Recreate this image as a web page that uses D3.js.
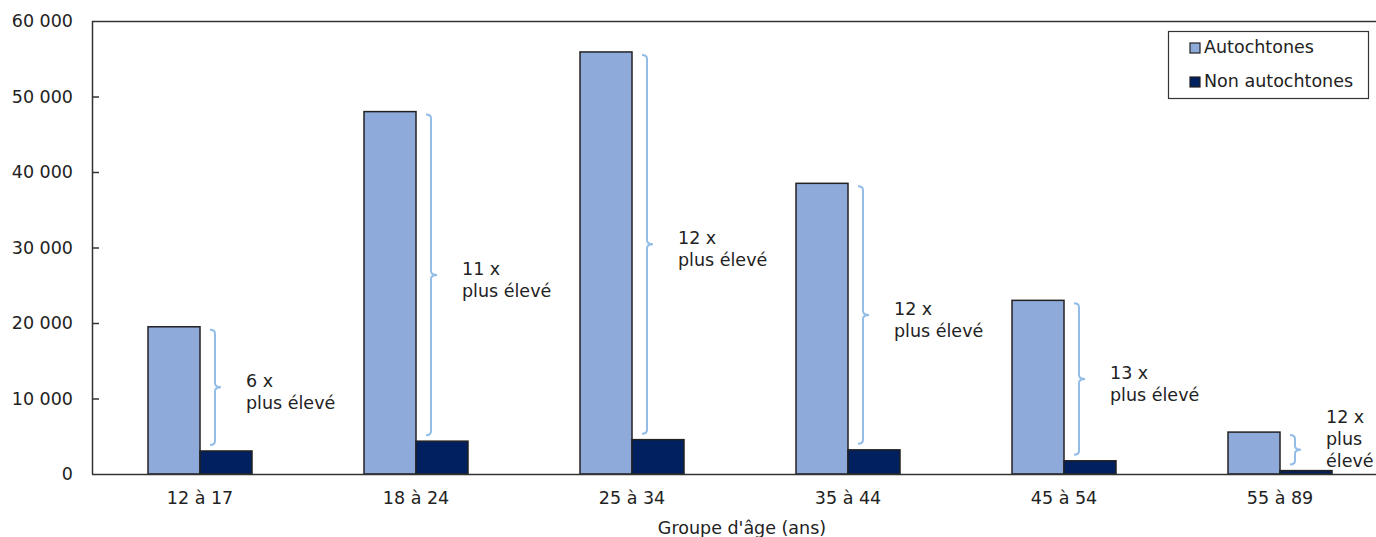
<!DOCTYPE html>
<html lang="fr">
<head>
<meta charset="utf-8">
<script src="https://cdn.jsdelivr.net/npm/d3@7"></script>
<style>
  html, body { margin: 0; padding: 0; background: #fff; }
  svg { display: block; font-family: "DejaVu Sans", Verdana, sans-serif; }
</style>
</head>
<body>
<svg id="chart" width="1376" height="537"></svg>
<script>
// Groupes d'âge et effectifs par groupe
const categories = ["12 à 17", "18 à 24", "25 à 34", "35 à 44", "45 à 54", "55 à 89"];
const seriesNames = ["Autochtones", "Non autochtones"];
const autochtones = [19500, 48000, 55900, 38500, 23000, 5550];
const nonAutochtones = [3050, 4350, 4550, 3200, 1750, 450];
// Rapport affiché à côté de chaque paire de barres (une entrée par ligne)
const ratioLabels = [
  ["6 x", "plus élevé"],
  ["11 x", "plus élevé"],
  ["12 x", "plus élevé"],
  ["12 x", "plus élevé"],
  ["13 x", "plus élevé"],
  ["12 x", "plus", "élevé"]
];
const yTicks = [0, 10000, 20000, 30000, 40000, 50000, 60000];
const xTitle = "Groupe d'âge (ans)";

const colors = { "Autochtones": "#8eaadb", "Non autochtones": "#002060" };
const braceColor = "#93bde8";
const textColor = "#222";

const svg = d3.select("#chart");
const plotLeft = 92, plotTop = 21, plotBottom = 474, step = 216, barW = 52;
const fontSize = "17.5px";

const x0 = d3.scaleBand().domain(categories).range([plotLeft, plotLeft + step * categories.length]).padding(0);
const x1 = d3.scaleBand().domain(seriesNames)
  .range([x0.bandwidth() / 2 - barW, x0.bandwidth() / 2 + barW]).padding(0);
const y = d3.scaleLinear().domain([0, 60000]).range([plotBottom, plotTop]);

const fmt = v => d3.format(",")(v).replace(/,/g, " ");

// Cadre supérieur du graphique
svg.append("line")
  .attr("x1", plotLeft).attr("x2", 1376).attr("y1", plotTop + 0.5).attr("y2", plotTop + 0.5)
  .attr("stroke", "#333").attr("stroke-width", 1.5);

// Axe des ordonnées
const yAxis = svg.append("g")
  .attr("transform", `translate(${plotLeft},0)`)
  .call(d3.axisRight(y).tickValues(yTicks).tickSize(7).tickFormat(fmt));
yAxis.select(".domain").attr("stroke", "#333").attr("stroke-width", 1.5)
  .attr("d", `M0.5,${plotBottom}V${plotTop}`);
yAxis.selectAll(".tick line").attr("stroke", "#333").attr("stroke-width", 1.5);
yAxis.selectAll(".tick text")
  .attr("x", -19).attr("text-anchor", "end")
  .attr("fill", textColor).style("font-size", fontSize).style("font-family", "DejaVu Sans, Verdana, sans-serif");
yAxis.selectAll(".tick").filter(d => d === 60000 || d === 0).select("line").remove();

// Barres
const groups = svg.append("g").selectAll("g")
  .data(categories)
  .join("g")
  .attr("transform", d => `translate(${x0(d)},0)`);

groups.selectAll("rect")
  .data((d, i) => [
    { key: "Autochtones", value: autochtones[i] },
    { key: "Non autochtones", value: nonAutochtones[i] }
  ])
  .join("rect")
  .attr("x", d => x1(d.key))
  .attr("width", x1.bandwidth())
  .attr("y", d => y(d.value))
  .attr("height", d => plotBottom - y(d.value))
  .attr("fill", d => colors[d.key])
  .attr("stroke", "#222")
  .attr("stroke-width", 1.5);

// Axe des abscisses
const xAxis = svg.append("g")
  .attr("transform", `translate(0,${plotBottom})`)
  .call(d3.axisBottom(x0).tickSize(0).tickPadding(18));
xAxis.select(".domain").attr("stroke", "#333").attr("stroke-width", 1.5)
  .attr("d", `M${plotLeft},0.5H1376`);
xAxis.selectAll(".tick text")
  .attr("fill", textColor).style("font-size", fontSize).style("font-family", "DejaVu Sans, Verdana, sans-serif");

svg.append("text")
  .attr("x", 742).attr("y", 534)
  .attr("text-anchor", "middle")
  .attr("fill", textColor).style("font-size", fontSize)
  .text(xTitle);

// Accolades et rapports
categories.forEach((c, i) => {
  const bx = x0(c) + x1("Non autochtones") + 15;
  const t = y(autochtones[i]) + 3;
  const b = y(nonAutochtones[i]) - 6;
  const m = (t + b) / 2;
  const h = 4;
  const path = `M${bx - 5},${t} Q${bx},${t} ${bx},${t + h}
    V${m - h} Q${bx},${m} ${bx + 6},${m} Q${bx},${m} ${bx},${m + h}
    V${b - h} Q${bx},${b} ${bx - 5},${b}`;
  svg.append("path").attr("d", path)
    .attr("fill", "none").attr("stroke", braceColor).attr("stroke-width", 2);

  const lines = ratioLabels[i];
  const firstY = m - (lines.length - 2) * 27;
  const txt = svg.append("text")
    .attr("x", bx + 31).attr("y", firstY)
    .attr("fill", textColor).style("font-size", fontSize);
  lines.forEach((l, k) => {
    txt.append("tspan").attr("x", bx + 31).attr("y", firstY + k * 22).text(l);
  });
});

// Légende
const legend = svg.append("g");
legend.append("rect")
  .attr("x", 1168.5).attr("y", 31.5).attr("width", 200).attr("height", 67)
  .attr("fill", "#fff").attr("stroke", "#333").attr("stroke-width", 1.2);
seriesNames.forEach((s, i) => {
  const ly = 53 + i * 34;
  legend.append("rect")
    .attr("x", 1190).attr("y", ly - 10).attr("width", 10).attr("height", 10)
    .attr("fill", colors[s]).attr("stroke", "#222").attr("stroke-width", 1.2);
  legend.append("text")
    .attr("x", 1204).attr("y", ly)
    .attr("fill", textColor).style("font-size", fontSize)
    .text(s);
});
</script>
</body>
</html>
